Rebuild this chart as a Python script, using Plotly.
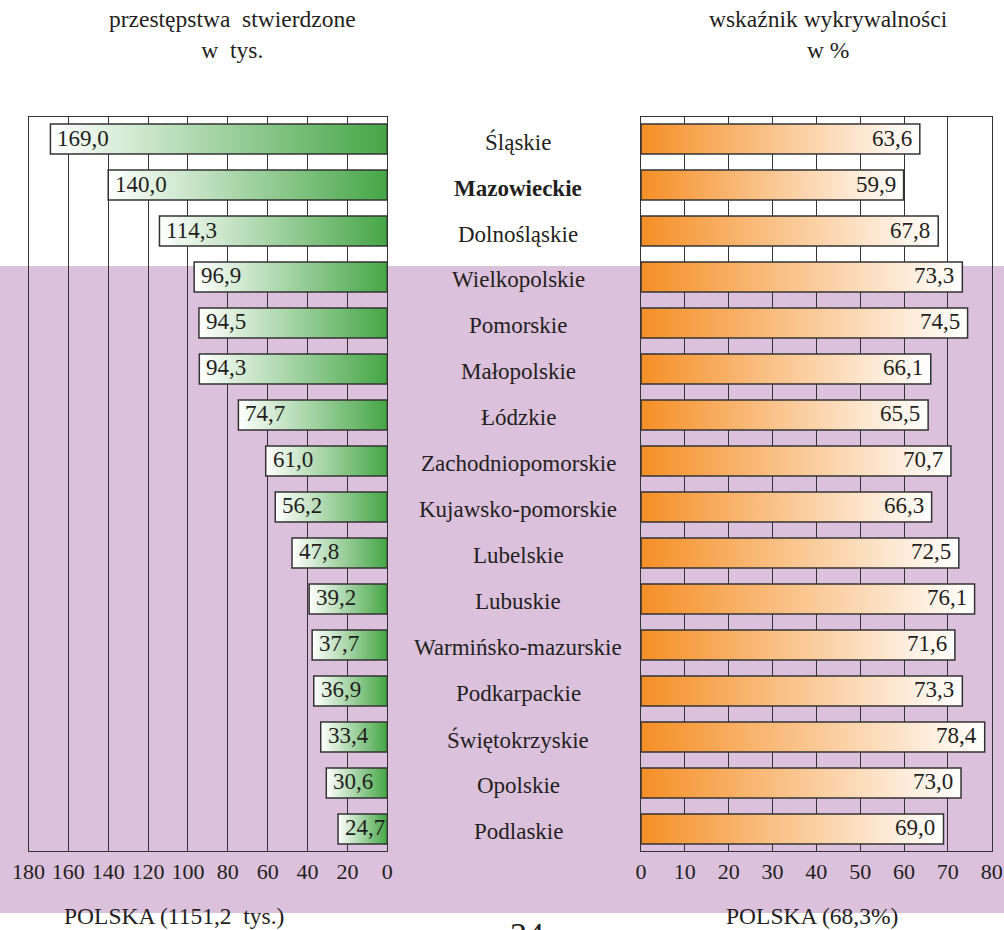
import plotly.graph_objects as go

regions = ["Śląskie", "Mazowieckie", "Dolnośląskie", "Wielkopolskie", "Pomorskie",
           "Małopolskie", "Łódzkie", "Zachodniopomorskie", "Kujawsko-pomorskie",
           "Lubelskie", "Lubuskie", "Warmińsko-mazurskie", "Podkarpackie",
           "Świętokrzyskie", "Opolskie", "Podlaskie"]
crimes = [169.0, 140.0, 114.3, 96.9, 94.5, 94.3, 74.7, 61.0, 56.2, 47.8, 39.2,
          37.7, 36.9, 33.4, 30.6, 24.7]
detection = [63.6, 59.9, 67.8, 73.3, 74.5, 66.1, 65.5, 70.7, 66.3, 72.5, 76.1,
             71.6, 73.3, 78.4, 73.0, 69.0]
left_ticks = [180, 160, 140, 120, 100, 80, 60, 40, 20, 0]
right_ticks = [0, 10, 20, 30, 40, 50, 60, 70, 80]

W, H = 1004, 930
SERIF = "Liberation Serif, Times New Roman, serif"
TXT = "#231f20"
EDGE = "#333333"
GREEN = "#45a646"
ORANGE = "#f58f26"
PURPLE = "#dcc1dc"
HALF = 0.326


def px(x):
    return x / W


def py(y):
    return 1 - y / H


def fmt(v):
    return f"{v:.1f}".replace(".", ",")


fig = go.Figure()

for i, v in enumerate(crimes):
    fig.add_trace(go.Scatter(
        x=[0, v, v, 0, 0], y=[i - HALF, i - HALF, i + HALF, i + HALF, i - HALF],
        mode="lines", fill="toself",
        fillgradient=dict(type="horizontal", colorscale=[[0, "#ffffff"], [1, GREEN]]),
        line=dict(color=EDGE, width=1.5), hoverinfo="skip", showlegend=False,
        xaxis="x", yaxis="y"))
    fig.add_annotation(x=v, y=i, xref="x", yref="y", text=fmt(v), showarrow=False,
                       xanchor="left", xshift=5, yshift=1,
                       font=dict(family=SERIF, size=23, color=TXT))

for i, v in enumerate(detection):
    fig.add_trace(go.Scatter(
        x=[0, v, v, 0, 0], y=[i - HALF, i - HALF, i + HALF, i + HALF, i - HALF],
        mode="lines", fill="toself",
        fillgradient=dict(type="horizontal", colorscale=[[0, ORANGE], [1, "#ffffff"]]),
        line=dict(color=EDGE, width=1.5), hoverinfo="skip", showlegend=False,
        xaxis="x2", yaxis="y2"))
    fig.add_annotation(x=v, y=i, xref="x2", yref="y2", text=fmt(v), showarrow=False,
                       xanchor="right", xshift=-6, yshift=1,
                       font=dict(family=SERIF, size=23, color=TXT))

for i, name in enumerate(regions):
    label = f"<b>{name}</b>" if name == "Mazowieckie" else name
    fig.add_annotation(x=px(518), y=i, xref="paper", yref="y", text=label,
                       showarrow=False, xanchor="center", yshift=-3,
                       font=dict(family=SERIF, size=23, color=TXT))

# titles
fig.add_annotation(x=px(232), y=py(4), xref="paper", yref="paper",
                   text="przestępstwa  stwierdzone<br>w  tys.", showarrow=False,
                   xanchor="center", yanchor="top",
                   font=dict(family=SERIF, size=23.5, color=TXT))
fig.add_annotation(x=px(828), y=py(4), xref="paper", yref="paper",
                   text="wskaźnik wykrywalności<br>w %", showarrow=False,
                   xanchor="center", yanchor="top",
                   font=dict(family=SERIF, size=23.5, color=TXT))
fig.add_annotation(x=px(174), y=py(916), xref="paper", yref="paper",
                   text="POLSKA (1151,2  tys.)", showarrow=False,
                   xanchor="center", yanchor="middle",
                   font=dict(family=SERIF, size=23.5, color=TXT))
fig.add_annotation(x=px(812), y=py(916), xref="paper", yref="paper",
                   text="POLSKA (68,3%)", showarrow=False,
                   xanchor="center", yanchor="middle",
                   font=dict(family=SERIF, size=23.5, color=TXT))
fig.add_annotation(x=px(527), y=py(914), xref="paper", yref="paper",
                   text="24", showarrow=False, xanchor="center", yanchor="top",
                   font=dict(family=SERIF, size=34, color=TXT))

# purple band
fig.add_shape(type="rect", xref="paper", yref="paper", x0=0, x1=1,
              y0=py(913), y1=py(266), fillcolor=PURPLE, line=dict(width=0),
              layer="below")

ydom = [py(851), py(116.7)]
yrange = [15.48, -0.485]
axis_common = dict(showline=True, mirror=True, linecolor=EDGE, linewidth=1.2,
                   showgrid=True, gridcolor=EDGE, gridwidth=1.2, zeroline=False,
                   ticks="", tickfont=dict(family=SERIF, size=22, color=TXT),
                   fixedrange=True, automargin=False)
yaxis_common = dict(domain=ydom, range=yrange, showticklabels=False,
                    showline=True, mirror=True, linecolor=EDGE, linewidth=1.2,
                    showgrid=False, zeroline=False, ticks="", fixedrange=True,
                    automargin=False)

fig.update_layout(
    width=W, height=H, margin=dict(l=0, r=0, t=0, b=0, pad=0, autoexpand=False),
    paper_bgcolor="white", plot_bgcolor="rgba(0,0,0,0)",
    showlegend=False,
    xaxis=dict(domain=[px(28.5), px(387.3)], range=[180, 0], anchor="y",
               tickvals=left_ticks, ticktext=[str(t) for t in left_ticks],
               **axis_common),
    yaxis=dict(anchor="x", **yaxis_common),
    xaxis2=dict(domain=[px(641), px(991.7)], range=[0, 80], anchor="y2",
                tickvals=right_ticks, ticktext=[str(t) for t in right_ticks],
                **axis_common),
    yaxis2=dict(anchor="x2", **yaxis_common),
)

fig.write_html(
    "out.html",
    config={"displayModeBar": False},
    post_script="document.body.style.margin='0';document.body.style.overflow='hidden';",
)
